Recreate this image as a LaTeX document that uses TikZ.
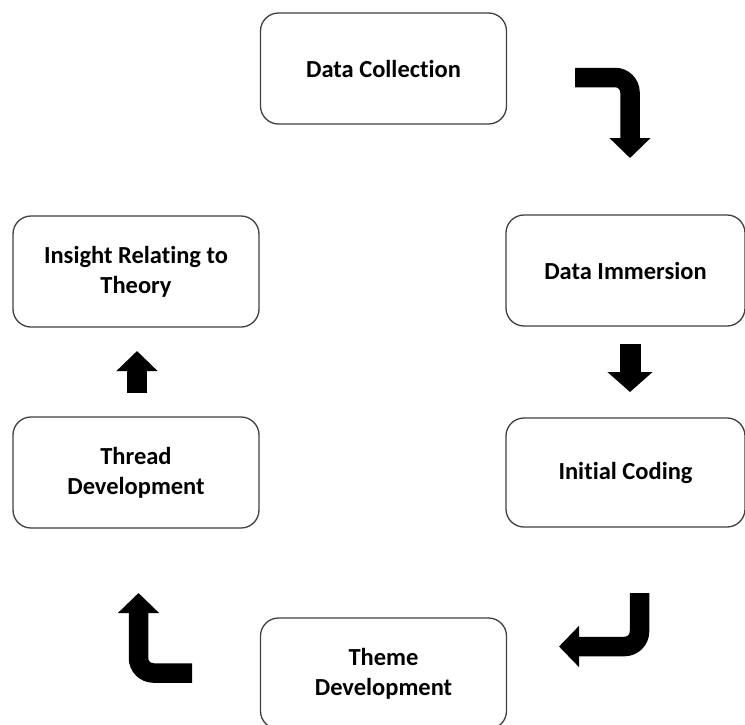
\documentclass[tikz,border=0pt]{standalone}
\usepackage{fontspec}
\setmainfont{Carlito}[Ligatures=NoCommon]
\usetikzlibrary{arrows.meta}
\begin{document}
\begin{tikzpicture}[x=1pt,y=-1pt,
  stage/.style={draw=black!75, line width=1.3pt, rounded corners=18pt,
    minimum width=246pt, minimum height=111pt, align=center,
    font=\fontsize{24.5}{30}\selectfont\bfseries, text=black, inner sep=0pt},
  blockarrow/.style={line width=19.5pt, line cap=butt, rounded corners=15pt,
    -{Triangle[width=40pt,length=20pt]}, black}]
\useasboundingbox (0,0) rectangle (745,724);
\fill[white] (0,0) rectangle (745,724);

% process stages
\node[stage] (collect) at (383.5,68.5) {Data Collection};
\node[stage, minimum width=239pt] (immerse) at (625.5,270.5) {Data Immersion};
\node[stage, minimum width=239pt, minimum height=109pt] (coding) at (625.5,472.5) {Initial Coding};
\node[stage] (theme) at (383.5,673.5) {Theme\\Development};
\node[stage] (thread) at (136,472.5) {Thread\\Development};
\node[stage] (insight) at (136,271.5) {Insight Relating to\\Theory};

% arrow end points
\coordinate (a1s) at (575,77.5);
\coordinate (a1e) at (630,158);
\coordinate (a2s) at (630,344);
\coordinate (a2e) at (630,392);
\coordinate (a3s) at (639.5,593);
\coordinate (a3e) at (559,646.5);
\coordinate (a4s) at (192,673);
\coordinate (a4e) at (138.5,593);
\coordinate (a5s) at (137,393);
\coordinate (a5e) at (137,351);

% block arrows between the stages
\draw[blockarrow] (a1s) -| (a1e);
\draw[blockarrow, line width=21pt, -{Triangle[width=44pt,length=20pt]}] (a2s) -- (a2e);
\draw[blockarrow] (a3s) |- (a3e);
\draw[blockarrow] (a4s) -| (a4e);
\draw[blockarrow] (a5s) -- (a5e);
\end{tikzpicture}
\end{document}
